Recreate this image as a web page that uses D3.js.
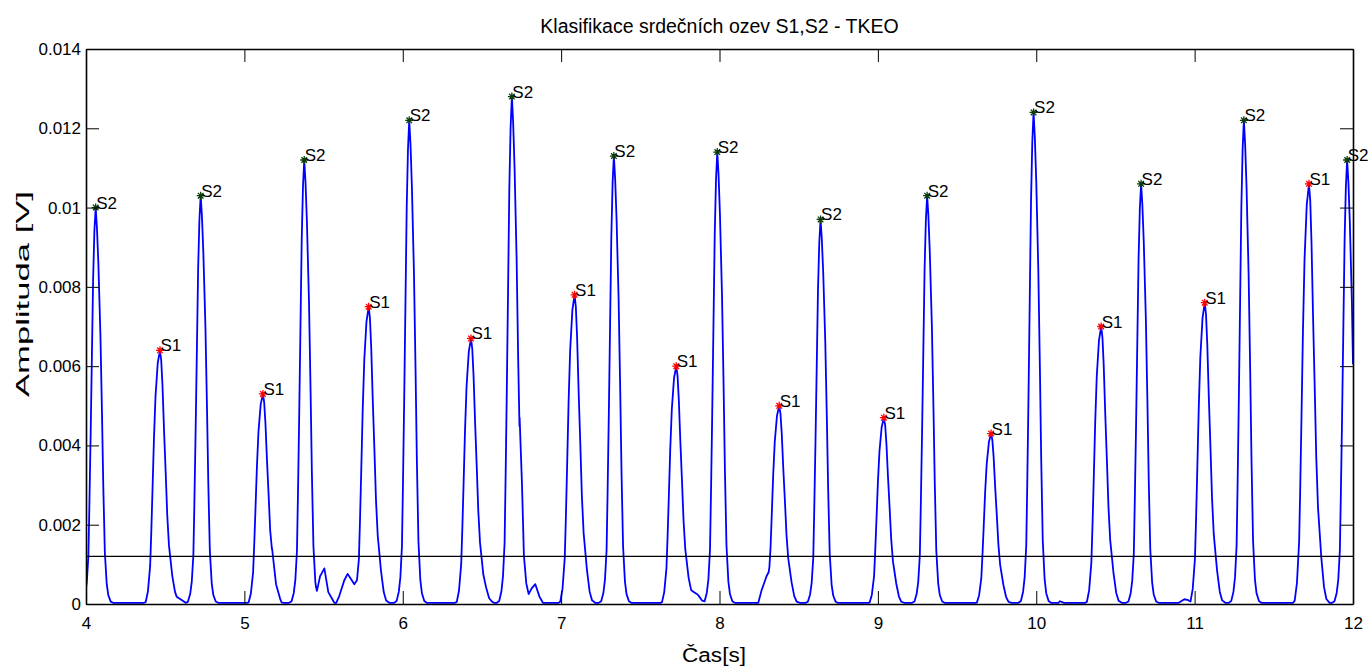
<!DOCTYPE html>
<html>
<head>
<meta charset="utf-8">
<script src="https://cdn.jsdelivr.net/npm/d3@7"></script>
<style>
  body { margin: 0; background: #fff; }
  text { font-family: "Liberation Sans", Arial, sans-serif; }
</style>
</head>
<body>
<svg id="chart"></svg>
<script>
// detected heart sounds (time [s], TKEO amplitude [V], class)
const peakTimes = [4.061, 4.467, 4.724, 5.117, 5.378, 5.785, 6.041, 6.431, 6.689, 7.085, 7.333, 7.727,
  7.986, 8.377, 8.638, 9.038, 9.311, 9.715, 9.983, 10.410, 10.662, 11.064, 11.311, 11.722, 11.963];
const peakValues = [0.0100, 0.0064, 0.0103, 0.0053, 0.0112, 0.0075, 0.0122, 0.0067, 0.0128, 0.0078, 0.0113, 0.0060,
  0.0114, 0.0050, 0.0097, 0.0047, 0.0103, 0.0043, 0.0124, 0.0070, 0.0106, 0.0076, 0.0122, 0.0106, 0.0112];
const peakLabels = ["S2", "S1", "S2", "S1", "S2", "S1", "S2", "S1", "S2", "S1", "S2", "S1",
  "S2", "S1", "S2", "S1", "S2", "S1", "S2", "S1", "S2", "S1", "S2", "S1", "S2"];

// envelope shape around each peak: [offset s, share of peak]
const s1Shape = [[-0.100, 0], [-0.090, 0.008], [-0.076, 0.05], [-0.062, 0.15], [-0.055, 0.28], [-0.047, 0.45],
  [-0.038, 0.65], [-0.028, 0.82], [-0.014, 0.95], [0, 1], [0.008, 0.96], [0.016, 0.86], [0.026, 0.68],
  [0.036, 0.52], [0.046, 0.35], [0.057, 0.23], [0.078, 0.11], [0.095, 0.04], [0.110, 0.012], [0.130, 0]];
const s2Shape = [[-0.095, 0], [-0.080, 0.006], [-0.066, 0.025], [-0.056, 0.055], [-0.046, 0.12], [-0.040, 0.24],
  [-0.032, 0.42], [-0.024, 0.62], [-0.016, 0.82], [-0.008, 0.94], [0, 1], [0.008, 0.95], [0.017, 0.86],
  [0.030, 0.68], [0.040, 0.48], [0.048, 0.30], [0.058, 0.13], [0.070, 0.05], [0.080, 0.022], [0.095, 0.006], [0.110, 0]];

// small bumps and slow tails in the gaps between the peaks
const baseline = 0.00003;
const bumps = [
  [[4.520, 0.00103], [4.545, 0.0005], [4.573, 0.00018], [4.604, 0.0001], [4.640, 0]],
  [[5.150, 0.0008], [5.175, 0.0014], [5.200, 0.0005], [5.235, 0]],
  [[5.440, 0], [5.452, 0.00022], [5.478, 0.0007], [5.505, 0.0009], [5.530, 0.0003], [5.568, 0]],
  [[5.580, 0], [5.599, 0.0002], [5.631, 0.0006], [5.652, 0.00076], [5.673, 0.00063], [5.694, 0.0005],
    [5.711, 0.0006], [5.726, 0.0012]],
  [[6.500, 0.0008], [6.545, 0.00015], [6.575, 0]],
  [[6.725, 0.002], [6.738, 0.0047], [6.753, 0.003], [6.765, 0.00122], [6.780, 0.00052], [6.795, 0.00025],
    [6.815, 0.0004], [6.837, 0.0005], [6.864, 0.00018], [6.885, 0]],
  [[7.790, 0.0006], [7.821, 0.00035], [7.864, 0.00023], [7.906, 0]],
  [[8.230, 0], [8.245, 0], [8.266, 0.00035], [8.297, 0.0007], [8.310, 0.0008], [8.322, 0.0011]],
  [[10.140, 0], [10.150, 0.00007], [10.175, 0]],
  [[10.900, 0], [10.935, 0.00012], [10.960, 0.0001], [10.985, 0]]
];

const threshold = 0.0012;
const xTicks = [4, 5, 6, 7, 8, 9, 10, 11, 12];
const yTicks = [0, 0.002, 0.004, 0.006, 0.008, 0.01, 0.012, 0.014];

const width = 1370;
const height = 668;
const margin = { top: 49, right: 17, bottom: 64, left: 86 };
const innerW = width - margin.left - margin.right;
const innerH = height - margin.top - margin.bottom;

const svg = d3.select("#chart").attr("width", width).attr("height", height);

const x = d3.scaleLinear().domain([4, 12]).range([margin.left, margin.left + innerW]);
const y = d3.scaleLinear().domain([0, 0.014]).range([margin.top + innerH, margin.top]);

// every piece of the envelope as its own polyline, then take the upper hull
const pieces = peakTimes.map((t, i) => {
  const shape = peakLabels[i] === "S1" ? s1Shape : s2Shape;
  return shape.map(([dt, f]) => [t + dt, f * peakValues[i]]);
}).concat(bumps);

const valueAt = (piece, t) => {
  if (t < piece[0][0] || t > piece[piece.length - 1][0]) return 0;
  const j = d3.bisector(d => d[0]).left(piece, t);
  if (piece[j][0] === t) return piece[j][1];
  const a = piece[j - 1], c = piece[j];
  return a[1] + (c[1] - a[1]) * (t - a[0]) / (c[0] - a[0]);
};

const times = Array.from(new Set([4, 12].concat(...pieces.map(p => p.map(d => d[0])))))
  .filter(t => t >= 4 && t <= 12)
  .sort((a, c) => a - c);
const trace = times.map(t => [t, Math.max(baseline, d3.max(pieces, p => valueAt(p, t)))]);

svg.append("defs").append("clipPath").attr("id", "plot-clip")
  .append("rect")
  .attr("x", margin.left).attr("y", margin.top)
  .attr("width", innerW).attr("height", innerH);

const line = d3.line().x(d => x(d[0])).y(d => y(d[1]));

svg.append("path")
  .datum(trace)
  .attr("clip-path", "url(#plot-clip)")
  .attr("fill", "none")
  .attr("stroke", "#0000ff")
  .attr("stroke-width", 1.8)
  .attr("stroke-linejoin", "round")
  .attr("d", line);

// threshold
svg.append("line")
  .attr("x1", x(4)).attr("x2", x(12))
  .attr("y1", y(threshold)).attr("y2", y(threshold))
  .attr("stroke", "#000")
  .attr("stroke-width", 1.2);

// markers and labels
const star = "M-4,0H4M0,-4V4M-2.8,-2.8L2.8,2.8M-2.8,2.8L2.8,-2.8";
const marks = svg.append("g").selectAll("g")
  .data(peakTimes.map((t, i) => ({ t, v: peakValues[i], label: peakLabels[i] })))
  .join("g")
  .attr("transform", d => `translate(${x(d.t)},${y(d.v)})`);

marks.append("path")
  .attr("d", star)
  .attr("fill", "none")
  .attr("stroke", d => d.label === "S1" ? "#ff0000" : "#0a3d0a")
  .attr("stroke-width", 1.3);

marks.append("text")
  .attr("x", 0.5)
  .attr("y", 1)
  .attr("font-size", 17)
  .attr("fill", "#000")
  .text(d => d.label);

// axes with inward ticks on all four sides
const fmt = d => String(+d.toFixed(3));
const styleAxis = g => {
  g.select(".domain").attr("stroke", "#000").attr("stroke-width", 1.6);
  g.selectAll(".tick line").attr("stroke", "#000").attr("stroke-width", 1);
  g.selectAll(".tick text").attr("font-size", 17).attr("fill", "#000")
    .attr("font-family", "'Liberation Sans', Arial, sans-serif");
};

svg.append("g")
  .attr("transform", `translate(0,${margin.top + innerH})`)
  .call(d3.axisBottom(x).tickValues(xTicks).tickFormat(d3.format("d"))
    .tickSizeInner(-13).tickSizeOuter(0).tickPadding(13))
  .call(styleAxis);

svg.append("g")
  .attr("transform", `translate(0,${margin.top})`)
  .call(d3.axisTop(x).tickValues(xTicks).tickFormat("")
    .tickSizeInner(-13).tickSizeOuter(0))
  .call(styleAxis);

svg.append("g")
  .attr("transform", `translate(${margin.left},0)`)
  .call(d3.axisLeft(y).tickValues(yTicks).tickFormat(fmt)
    .tickSizeInner(-13).tickSizeOuter(0).tickPadding(5))
  .call(styleAxis);

svg.append("g")
  .attr("transform", `translate(${margin.left + innerW},0)`)
  .call(d3.axisRight(y).tickValues(yTicks).tickFormat("")
    .tickSizeInner(-13).tickSizeOuter(0))
  .call(styleAxis);

// titles
svg.append("text")
  .attr("x", margin.left + innerW / 2)
  .attr("y", 33)
  .attr("text-anchor", "middle")
  .attr("font-size", 19.5)
  .text("Klasifikace srdečních ozev S1,S2 - TKEO");

svg.append("text")
  .attr("x", 714)
  .attr("y", 662)
  .attr("text-anchor", "middle")
  .attr("font-size", 20)
  .attr("textLength", 64)
  .attr("lengthAdjust", "spacingAndGlyphs")
  .text("Čas[s]");

svg.append("text")
  .attr("transform", "translate(29,294) rotate(-90)")
  .attr("text-anchor", "middle")
  .attr("font-size", 19)
  .attr("textLength", 206)
  .attr("lengthAdjust", "spacingAndGlyphs")
  .text("Amplituda [V]");
</script>
</body>
</html>
